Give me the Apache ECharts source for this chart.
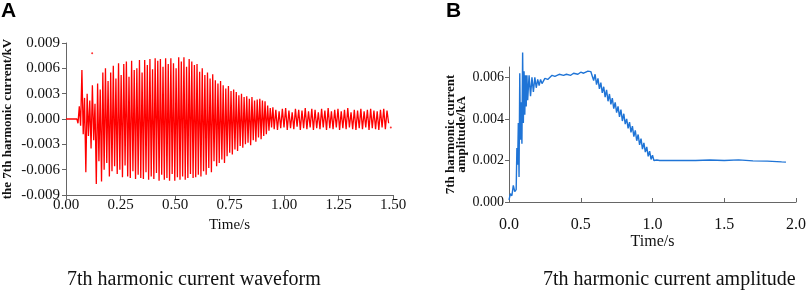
<!DOCTYPE html>
<html>
<head>
<meta charset="utf-8">
<script src="https://cdn.jsdelivr.net/npm/echarts@6/dist/echarts.min.js"></script>
<style>
  html, body { margin: 0; padding: 0; background: #fff; }
  #main { width: 809px; height: 291px; }
</style>
</head>
<body>
<div id="main"></div>
<script>
// ---------------- data ----------------
// A: 7th harmonic current waveform, half-cycle peaks (unit 0.001 kV)
// main part: 0.055 s .. 0.949 s, every 0.006 s
var waveMainStart = 0.055
var waveMainStep = 0.006
var waveMain = [
  -0.5, 1.5, -0.8, 5.8, -1.8, 2.5, -6.3, 3.0, -2.0, 2.2,
  -3.5, 4.0, -2.5, 1.8, -7.7, 4.2, -5.0, 3.5, -7.4, 5.5,
  -6.0, 6.0, -5.2, 4.5, -6.8, 5.5, -6.2, 6.3, -5.6, 4.8,
  -6.5, 6.6, -6.0, 5.2, -6.9, 6.5, -5.5, 6.8, -6.8, 5.0,
  -7.0, 6.9, -6.2, 5.8, -7.1, 6.0, -6.6, 7.0, -7.0, 5.5,
  -7.1, 7.0, -6.3, 6.4, -7.2, 7.1, -6.8, 5.9, -7.1, 7.2,
  -6.4, 6.9, -7.3, 7.1, -6.6, 6.2, -7.2, 7.2, -7.0, 6.5,
  -7.3, 7.2, -6.5, 6.6, -7.3, 6.0, -6.9, 7.3, -7.2, 6.8,
  -6.8, 7.3, -7.2, 6.2, -7.0, 7.1, -6.5, 6.8, -7.0, 6.4,
  -6.9, 6.5, -6.6, 5.6, -6.8, 6.0, -6.2, 5.2, -6.6, 5.5,
  -5.8, 4.8, -6.3, 5.3, -5.0, 4.6, -5.6, 4.2, -5.2, 4.5,
  -4.8, 4.0, -5.2, 3.6, -4.4, 3.9, -4.0, 3.3, -4.2, 3.5,
  -3.6, 3.2, -3.8, 2.8, -3.2, 3.0, -3.4, 2.6, -3.0, 2.7,
  -2.8, 2.4, -3.1, 2.6, -2.5, 2.2, -2.7, 2.3, -2.2, 2.4,
  -2.4, 2.2, -2.0, 2.1, -1.8, 1.6, -1.4, 1.3, -1.0, 1.4
]
// tail: 0.955 s .. 1.48 s, every 0.0075 s
var waveTailStart = 0.955
var waveTailStep = 0.0075
var waveTail = [
  -1.2, 1.1, -1.3, 0.9, -1.1, 1.2, -1.0, 1.3, -1.3, 1.0,
  -1.1, 0.8, -1.2, 1.2, -0.9, 1.1, -1.3, 1.0, -1.1, 1.3,
  -1.2, 0.9, -1.0, 1.2, -1.3, 1.1, -1.1, 0.8, -1.2, 1.2,
  -1.0, 1.0, -1.3, 1.3, -1.1, 0.9, -1.2, 1.1, -1.0, 1.2,
  -1.3, 0.9, -1.1, 1.1, -1.2, 1.3, -1.0, 0.8, -1.2, 1.1,
  -1.3, 1.0, -1.1, 1.2, -1.2, 0.9, -1.0, 1.1, -1.3, 1.2,
  -1.1, 1.0, -1.2, 0.9, -1.3, 1.1, -1.0, 1.2, -1.2, 1.0,
  -0.5
]
var waveStray = [[0.12, 7.8], [1.49, -1.0]]

// B: 7th harmonic current amplitude (unit 0.001 kA)
var ampTime = [
  0.000, 0.010, 0.020, 0.030, 0.040, 0.050, 0.055, 0.060, 0.065, 0.070,
  0.075, 0.080, 0.085, 0.090, 0.095, 0.100, 0.105, 0.110, 0.115, 0.120,
  0.125, 0.130, 0.140, 0.150, 0.160, 0.170, 0.180, 0.190, 0.200, 0.210,
  0.220, 0.230, 0.250, 0.270, 0.300, 0.320, 0.350, 0.380, 0.400, 0.430,
  0.450, 0.480, 0.500, 0.520, 0.550, 0.570, 0.580, 0.590, 0.600, 0.610,
  0.620, 0.630, 0.640, 0.650, 0.660, 0.670, 0.680, 0.690, 0.700, 0.710,
  0.720, 0.730, 0.740, 0.750, 0.760, 0.770, 0.780, 0.790, 0.800, 0.810,
  0.820, 0.830, 0.840, 0.850, 0.860, 0.870, 0.880, 0.890, 0.900, 0.910,
  0.920, 0.930, 0.940, 0.950, 0.960, 0.970, 0.980, 0.990, 1.000, 1.010,
  1.030, 1.050, 1.100, 1.200, 1.300, 1.400, 1.500, 1.600, 1.700, 1.800,
  1.900, 1.930
]
var ampValue = [
  0.1, 0.4, 0.3, 0.8, 0.5, 0.6, 2.6, 1.8, 3.8, 1.2,
  6.2, 3.0, 4.8, 2.8, 7.2, 3.8, 6.3, 4.2, 6.1, 4.6,
  6.1, 4.9, 6.1, 5.1, 6.0, 5.3, 6.0, 5.5, 5.9, 5.6,
  5.9, 5.7, 5.95, 5.9, 6.1, 6.05, 6.15, 6.1, 6.15, 6.1,
  6.2, 6.15, 6.25, 6.2, 6.3, 6.28, 6.2, 5.85, 6.15, 5.65,
  5.95, 5.45, 5.75, 5.25, 5.55, 5.05, 5.4, 4.85, 5.2, 4.7,
  5.0, 4.5, 4.8, 4.3, 4.6, 4.1, 4.45, 3.9, 4.25, 3.75,
  4.0, 3.55, 3.85, 3.35, 3.65, 3.15, 3.45, 2.95, 3.25, 2.75,
  3.05, 2.55, 2.85, 2.4, 2.65, 2.2, 2.45, 2.05, 2.25, 2.0,
  2.02, 2.0, 2.0, 2.0, 2.0, 2.02, 2.0, 2.03, 1.98, 1.97,
  1.93, 1.92
]

var yTicksA = [-0.009, -0.006, -0.003, 0, 0.003, 0.006, 0.009]
var yTicksB = [0, 0.002, 0.004, 0.006]

// ---------------- build series data ----------------
var waveData = [[0, 0], [0.05, 0]]
waveMain.forEach(function (v, i) {
  waveData.push([waveMainStart + i * waveMainStep, v / 1000])
})
waveTail.forEach(function (v, i) {
  waveData.push([waveTailStart + i * waveTailStep, v / 1000])
})
var strayData = waveStray.map(function (p) { return [p[0], p[1] / 1000] })
var ampData = ampTime.map(function (t, i) { return [t, ampValue[i] / 1000] })

var serif = 'Liberation Serif'
var axisColor = '#666'

var chart = echarts.init(document.getElementById('main'))

var option = {
  backgroundColor: '#fff',
  animation: false,
  grid: [
    { left: 60, top: 43, width: 333, height: 152 },
    { left: 509, top: 67, width: 294, height: 135 }
  ],
  xAxis: [{
    gridIndex: 0,
    type: 'value',
    min: 0, max: 1.5, interval: 0.25,
    name: 'Time/s',
    nameLocation: 'middle',
    nameGap: 20,
    nameTextStyle: { fontFamily: serif, fontSize: 15, color: '#111' },
    axisLine: { onZero: false, lineStyle: { color: axisColor } },
    axisTick: { length: 4, lineStyle: { color: axisColor } },
    axisLabel: {
      margin: 3, fontFamily: serif, fontSize: 15, color: '#111',
      formatter: function (v) { return v.toFixed(2) }
    },
    splitLine: { show: false }
  }, {
    gridIndex: 1,
    type: 'value',
    min: 0, max: 2, interval: 0.5,
    name: 'Time/s',
    nameLocation: 'middle',
    nameGap: 32,
    nameTextStyle: { fontFamily: serif, fontSize: 16, color: '#111' },
    axisLine: { onZero: false, lineStyle: { color: axisColor } },
    axisTick: { inside: true, length: 4, lineStyle: { color: axisColor } },
    axisLabel: {
      margin: 15, fontFamily: serif, fontSize: 16, color: '#111',
      formatter: function (v) { return v.toFixed(1) }
    },
    splitLine: { show: false }
  }],
  yAxis: [{
    gridIndex: 0,
    type: 'value',
    min: -0.009, max: 0.009,
    name: 'the 7th harmonic current/kV',
    nameLocation: 'middle',
    nameGap: 52,
    nameTextStyle: { fontFamily: serif, fontSize: 13, fontWeight: 'bold', color: '#111' },
    axisLine: { show: true, lineStyle: { color: axisColor } },
    axisTick: { length: 4, customValues: yTicksA, lineStyle: { color: axisColor } },
    axisLabel: {
      margin: 6, fontFamily: serif, fontSize: 15, color: '#111',
      customValues: yTicksA,
      formatter: function (v) { return Math.abs(v) < 1e-9 ? '0.000' : v.toFixed(3) }
    },
    splitLine: { show: false }
  }, {
    gridIndex: 1,
    type: 'value',
    min: 0, max: 0.0065,
    name: '7th harmonic current\namplitude/kA',
    nameLocation: 'middle',
    nameGap: 31,
    nameTextStyle: { fontFamily: serif, fontSize: 13, fontWeight: 'bold', color: '#111', lineHeight: 11 },
    axisLine: { show: true, lineStyle: { color: axisColor } },
    axisTick: { length: 4, customValues: yTicksB, lineStyle: { color: axisColor } },
    axisLabel: {
      margin: 5, fontFamily: serif, fontSize: 14, color: '#111',
      customValues: yTicksB,
      formatter: function (v) { return v.toFixed(3) }
    },
    splitLine: { show: false }
  }],
  series: [{
    name: 'waveform',
    type: 'line',
    xAxisIndex: 0, yAxisIndex: 0,
    data: waveData,
    showSymbol: false,
    lineStyle: { color: '#ff0000', width: 1.3 },
    silent: true
  }, {
    name: 'stray',
    type: 'scatter',
    xAxisIndex: 0, yAxisIndex: 0,
    data: strayData,
    symbolSize: 2,
    itemStyle: { color: '#ff0000' },
    silent: true
  }, {
    name: 'amplitude',
    type: 'line',
    xAxisIndex: 1, yAxisIndex: 1,
    data: ampData,
    showSymbol: false,
    clip: false,
    lineStyle: { color: '#1f74d6', width: 1.4 },
    silent: true
  }],
  graphic: [
    { type: 'text', left: 1, top: 1, style: { text: 'A', font: 'bold 21px "Liberation Sans", Arial, sans-serif', fill: '#000' } },
    { type: 'text', left: 446, top: 1, style: { text: 'B', font: 'bold 21px "Liberation Sans", Arial, sans-serif', fill: '#000' } },
    { type: 'text', left: 67, top: 270, style: { text: '7th harmonic current waveform', font: '20px "Liberation Serif"', fill: '#111' } },
    { type: 'text', left: 543, top: 270, style: { text: '7th harmonic current amplitude', font: '20px "Liberation Serif"', fill: '#111' } }
  ]
}

chart.setOption(option)
</script>
</body>
</html>
